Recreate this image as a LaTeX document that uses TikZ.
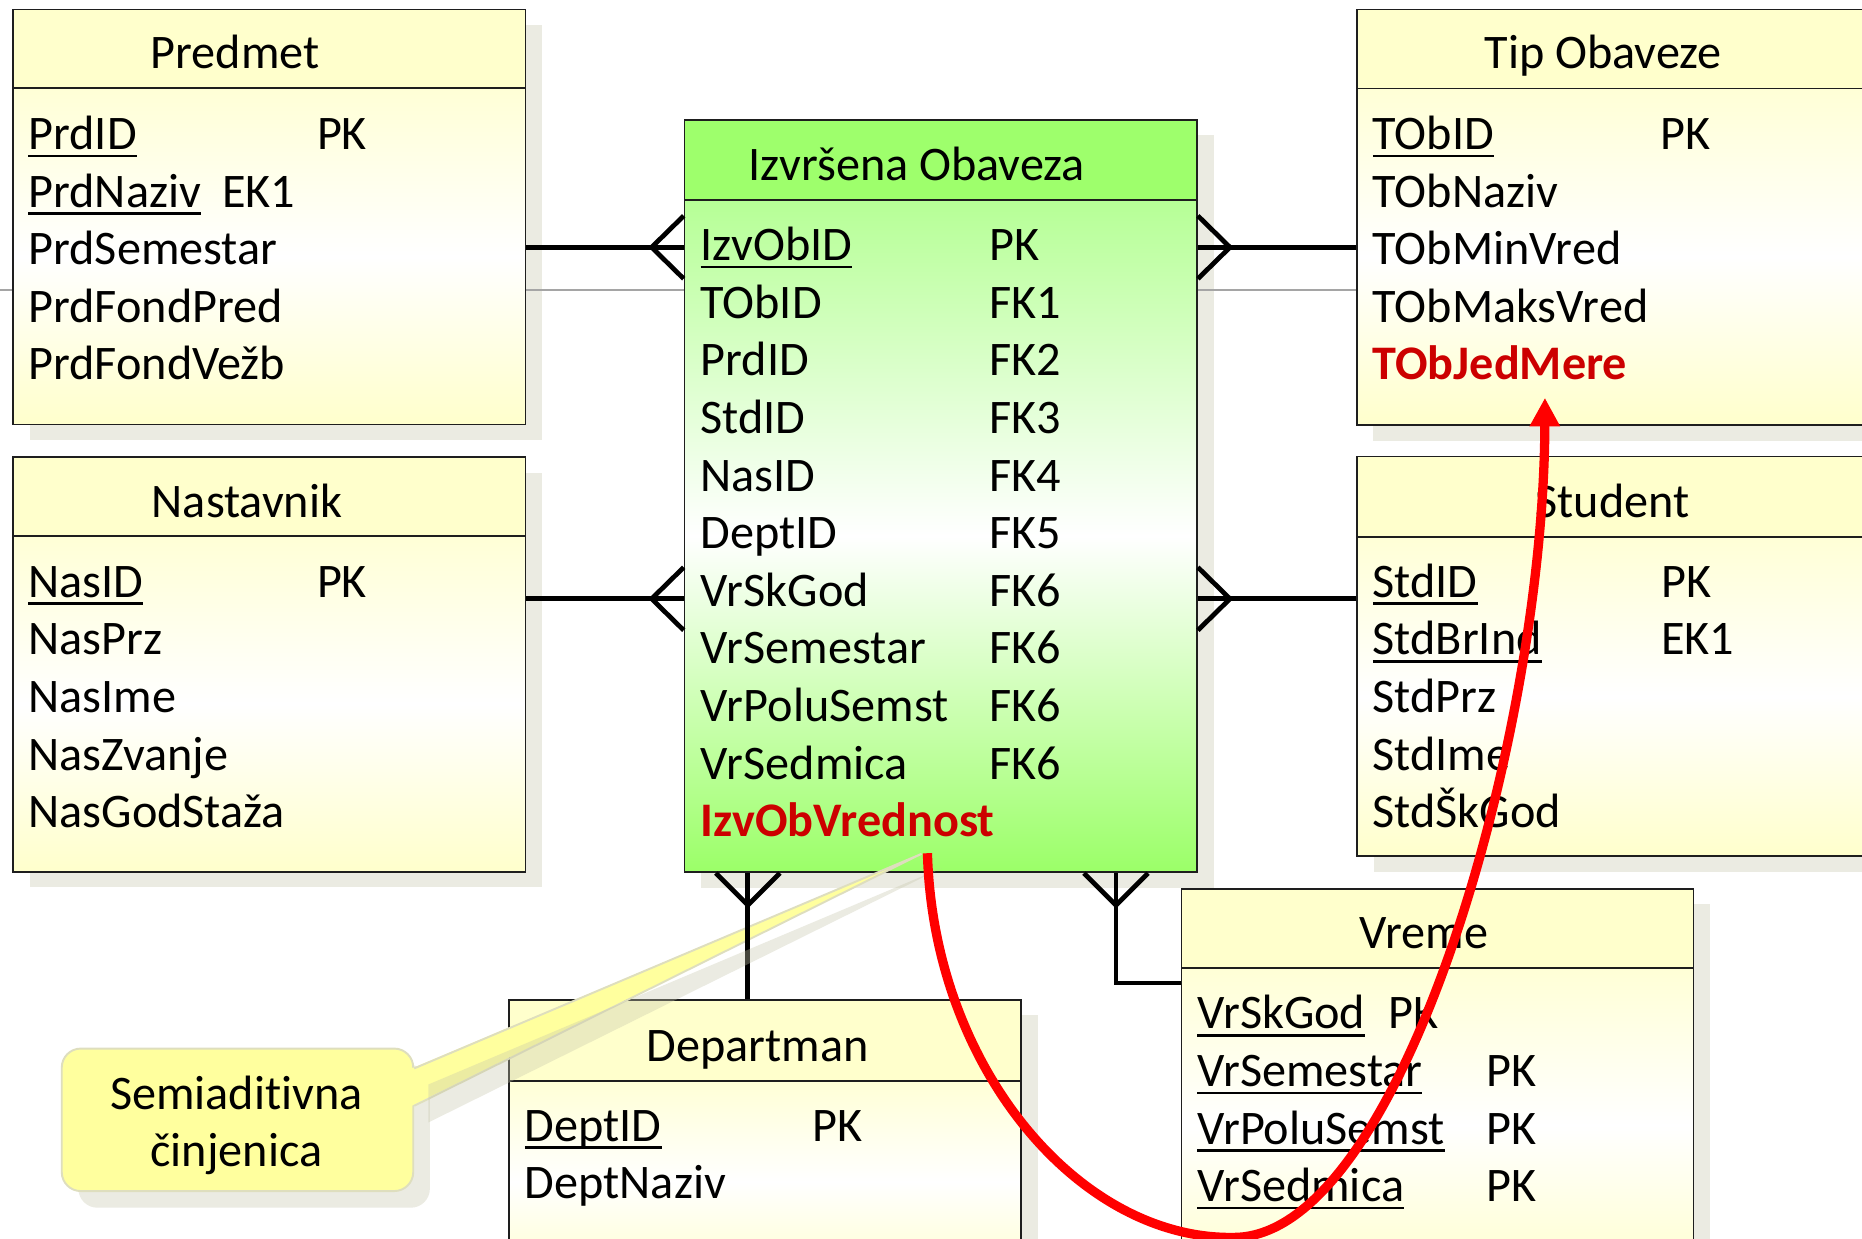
\documentclass[tikz,border=0pt]{standalone}
\usepackage{fontspec}
\setmainfont{Carlito}[Ligatures={NoCommon}]
\usetikzlibrary{arrows.meta,fit,calc}

\definecolor{hdrY}{RGB}{255,255,204}
\definecolor{topY}{RGB}{255,255,214}
\definecolor{botY}{RGB}{255,255,204}
\definecolor{hdrG}{RGB}{158,255,108}
\definecolor{topG}{RGB}{182,255,150}
\definecolor{botG}{RGB}{155,255,104}
\definecolor{shadowc}{RGB}{235,235,226}
\definecolor{shadowt}{RGB}{198,198,172}
\definecolor{edgec}{RGB}{30,30,30}
\definecolor{keyred}{RGB}{204,0,0}
\definecolor{noteY}{RGB}{255,255,158}
\definecolor{noteedge}{RGB}{222,222,190}
\definecolor{guide}{RGB}{165,165,165}

% underlined key attribute
\newcommand\keyul[1]{\sbox0{#1}\rlap{\rule[-3.2pt]{\wd0}{1.1pt}}#1}

% entity table: name, x1, y1, x2, y2, header bottom, header colour, body top, body bottom
\newcommand\tablebox[9]{%
  \shade[top color=#8, bottom color=#9, middle color=white] (#2,#6) rectangle (#4,#5);
  \fill[#7] (#2,#3) rectangle (#4,#6);
  \node[fit={(#2,#3) (#4,#5)}, inner sep=0pt, boxframe] (#1) {};
  \draw[boxframe] (#2,#6) -- (#4,#6);
}
\newcommand\boxshadow[4]{\fill[shadowc] (#1+14,#2+13) rectangle (#3+14,#4+13);}

\begin{document}
\begin{tikzpicture}[x=0.5pt,y=-0.5pt,
  txt/.style={inner sep=0pt, outer sep=0pt, font=\fontsize{20.3}{24}\selectfont},
  fld/.style={txt, anchor=base west},
  ttl/.style={txt, anchor=base},
  hot/.style={fld, text=keyred, font=\fontsize{20.3}{24}\selectfont\bfseries},
  rel/.style={line width=2pt, black},
  boxframe/.style={draw=edgec, line width=0.75pt}]

\useasboundingbox (0,0) rectangle (1568,1043);
\clip (0,0) rectangle (1568,1043);
\fill[white] (0,0) rectangle (1568,1043);

% drop shadows of the tables
\boxshadow{11}{8}{442.5}{357.5}
\boxshadow{11}{385}{442.5}{734}
\boxshadow{576.5}{101}{1008}{734.5}
\boxshadow{1142.5}{8}{1600}{358}
\boxshadow{1143}{384.5}{1600}{721}
\boxshadow{995}{748.5}{1426}{1080}
\boxshadow{428.5}{842}{860}{1080}

% guide line
\draw[guide, line width=0.45pt] (0,244.2) -- (1568,244.2);

% tables
\tablebox{predmet}{11}{8}{442.5}{357.5}{74.4}{hdrY}{topY}{botY}
\tablebox{nastavnik}{11}{385}{442.5}{734}{451.5}{hdrY}{topY}{botY}
\tablebox{izvrsena}{576.5}{101}{1008}{734.5}{168.4}{hdrG}{topG}{botG}
\tablebox{tipob}{1142.5}{8}{1600}{358}{74.6}{hdrY}{topY}{botY}
\tablebox{student}{1143}{384.5}{1600}{721}{452}{hdrY}{topY}{botY}
\tablebox{vreme}{995}{748.5}{1426}{1080}{815.4}{hdrY}{topY}{botY}
\tablebox{departman}{428.5}{842}{860}{1080}{910}{hdrY}{topY}{botY}

% Predmet
\node[ttl] (pT) at (198,58) {Predmet};
\node[fld] (p1) at (24,126) {\keyul{PrdID}};
\node[fld] (p1k) at (267,126) {PK};
\node[fld] (p2) at (24,174.5) {\keyul{PrdNaziv}};
\node[fld] (p2k) at (187,174.5) {EK1};
\node[fld] (p3) at (24,223) {PrdSemestar};
\node[fld] (p4) at (24,271.5) {PrdFondPred};
\node[fld] (p5) at (24,320) {PrdFondVežb};

% Nastavnik
\node[ttl] (nT) at (208,436) {Nastavnik};
\node[fld] (n1) at (24,503) {\keyul{NasID}};
\node[fld] (n1k) at (267,503) {PK};
\node[fld] (n2) at (24,551.5) {NasPrz};
\node[fld] (n3) at (24,600) {NasIme};
\node[fld] (n4) at (24,648.5) {NasZvanje};
\node[fld] (n5) at (24,697) {NasGodStaža};

% Izvrsena Obaveza
\node[ttl] (iT) at (772,152) {Izvršena Obaveza};
\node[fld] (i1) at (590,219.5) {\keyul{IzvObID}};
\node[fld] (i1k) at (833,219.5) {PK};
\node[fld] (i2) at (590,268) {TObID};
\node[fld] (i2k) at (833,268) {FK1};
\node[fld] (i3) at (590,316.5) {PrdID};
\node[fld] (i3k) at (833,316.5) {FK2};
\node[fld] (i4) at (590,365) {StdID};
\node[fld] (i4k) at (833,365) {FK3};
\node[fld] (i5) at (590,413.5) {NasID};
\node[fld] (i5k) at (833,413.5) {FK4};
\node[fld] (i6) at (590,462) {DeptID};
\node[fld] (i6k) at (833,462) {FK5};
\node[fld] (i7) at (590,510.5) {VrSkGod};
\node[fld] (i7k) at (833,510.5) {FK6};
\node[fld] (i8) at (590,559) {VrSemestar};
\node[fld] (i8k) at (833,559) {FK6};
\node[fld] (i9) at (590,607.5) {VrPoluSemst};
\node[fld] (i9k) at (833,607.5) {FK6};
\node[fld] (i10) at (590,656) {VrSedmica};
\node[fld] (i10k) at (833,656) {FK6};
\node[hot] (i11) at (590,704.5) {IzvObVrednost};

% Tip Obaveze
\node[ttl] (tT) at (1350,58) {Tip Obaveze};
\node[fld] (t1) at (1156,126) {\keyul{TObID}};
\node[fld] (t1k) at (1398,126) {PK};
\node[fld] (t2) at (1156,174.5) {TObNaziv};
\node[fld] (t3) at (1156,223) {TObMinVred};
\node[fld] (t4) at (1156,271.5) {TObMaksVred};
\node[hot] (t5) at (1156,320) {TObJedMere};

% Student
\node[ttl] (sT) at (1358,436) {Student};
\node[fld] (s1) at (1156,503) {\keyul{StdID}};
\node[fld] (s1k) at (1399,503) {PK};
\node[fld] (s2) at (1156,551.5) {\keyul{StdBrInd}};
\node[fld] (s2k) at (1399,551.5) {EK1};
\node[fld] (s3) at (1156,600) {StdPrz};
\node[fld] (s4) at (1156,648.5) {StdIme};
\node[fld] (s5) at (1156,697) {StdŠkGod};

% Vreme
\node[ttl] (vT) at (1199,799) {Vreme};
\node[fld] (v1) at (1008,866.5) {\keyul{VrSkGod}};
\node[fld] (v1k) at (1169,866.5) {PK};
\node[fld] (v2) at (1008,915) {\keyul{VrSemestar}};
\node[fld] (v2k) at (1252,915) {PK};
\node[fld] (v3) at (1008,963.5) {\keyul{VrPoluSemst}};
\node[fld] (v3k) at (1252,963.5) {PK};
\node[fld] (v4) at (1008,1012) {\keyul{VrSedmica}};
\node[fld] (v4k) at (1252,1012) {PK};

% Departman
\node[ttl] (dT) at (638,894) {Departman};
\node[fld] (d1) at (442,961) {\keyul{DeptID}};
\node[fld] (d1k) at (684,961) {PK};
\node[fld] (d2) at (442,1009.5) {DeptNaziv};

% callout body and its pointer
\coordinate (noteTip) at (776,719);
\fill[shadowc, rounded corners=8pt] (66,897) rectangle (362,1017);
\node[fit={(52,883) (348,1003)}, inner sep=0pt, rounded corners=8pt,
      fill=noteY, draw=noteedge, line width=0.8pt] (note) {};
\fill[noteY] ($(note.north east)+(-2,17.5)$) -- (noteTip) -- ($(note.north east)+(-2,49)$) -- cycle;
\draw[noteedge, line width=0.8pt] ($(note.north east)+(0,17.5)$) -- (noteTip) -- ($(note.north east)+(0,49)$);
\node[ttl] (c1) at (199,934.5) {Semiaditivna};
\node[ttl] (c2) at (199,982.5) {činjenica};

% relationship ends on the fact table
\coordinate (hookA) at ($(izvrsena.north west)+(0,108)$);
\coordinate (hookB) at ($(izvrsena.north west)+(0,404)$);
\coordinate (hookC) at ($(izvrsena.north east)+(0,108)$);
\coordinate (hookD) at ($(izvrsena.north east)+(0,404)$);
\coordinate (hookE) at ($(izvrsena.south west)+(54,0)$);
\coordinate (hookF) at ($(izvrsena.south west)+(364,0)$);

% relationships with crow's feet
\draw[rel] (predmet.east |- hookA) -- (hookA);
\draw[rel] (hookA) ++(0,-26.5) -- ++(-27,26.5) -- ++(27,26.5);
\draw[rel] (nastavnik.east |- hookB) -- (hookB);
\draw[rel] (hookB) ++(0,-26.5) -- ++(-27,26.5) -- ++(27,26.5);
\draw[rel] (hookC) -- (tipob.west |- hookC);
\draw[rel] (hookC) ++(0,-26.5) -- ++(27,26.5) -- ++(-27,26.5);
\draw[rel] (hookD) -- (student.west |- hookD);
\draw[rel] (hookD) ++(0,-26.5) -- ++(27,26.5) -- ++(-27,26.5);
\draw[rel] (hookE) -- (hookE |- departman.north);
\draw[rel] (hookE) ++(-27,0) -- ++(27,27) -- ++(27,-27);
\draw[rel] (hookF) |- ($(vreme.north west)+(0,80)$);
\draw[rel] (hookF) ++(-27,0) -- ++(27,27) -- ++(27,-27);

% translucent shadow of the callout pointer
\fill[shadowt, opacity=0.35] ($(note.north east)+(12,31)$) -- ($(noteTip)+(17,12)$) -- ($(note.north east)+(12,63)$) -- cycle;

% semi-additive measure linked to its unit of measure
\coordinate (valfoot) at (781,718.5);
\coordinate (unitfoot) at (1301,335);
\draw[red, line width=3.9pt, -{Triangle[width=12pt,length=12pt]}]
  (valfoot) .. controls (786,900) and (910,1045) .. (1040,1042)
            .. controls (1180,1040) and (1300,620) .. (unitfoot);
\end{tikzpicture}
\end{document}
